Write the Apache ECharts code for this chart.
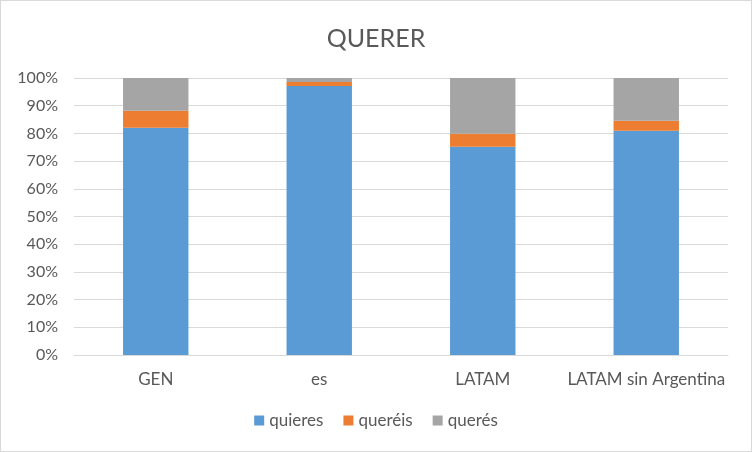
<!DOCTYPE html>
<html>
<head>
<meta charset="utf-8">
<script src="https://cdn.jsdelivr.net/npm/echarts@6/dist/echarts.min.js"></script>
<style>
html,body{margin:0;padding:0;background:#fff;}
#c{width:750px;height:450px;border:1px solid #d9d9d9;}
</style>
</head>
<body>
<div id="c"></div>
<script>
const categories = ['GEN', 'es', 'LATAM', 'LATAM sin Argentina'];
const quieres = [82.0, 97.1, 75.2, 81.0];
const quereis = [6.2, 1.5, 4.7, 3.6];
const queres = [11.8, 1.4, 20.1, 15.4];
const yTicks = [0, 10, 20, 30, 40, 50, 60, 70, 80, 90, 100];

const chart = echarts.init(document.getElementById('c'));
const font = 'Lato, "Open Sans", sans-serif';
const mk = (name, data, color) => ({
  name, type: 'bar', stack: 's', data, barWidth: '40%',
  itemStyle: { color }
});
chart.setOption({
  animation: false,
  textStyle: { fontFamily: font },
  title: {
    text: 'QUERER', left: 'center', top: 20,
    textStyle: { fontSize: 25, fontWeight: 'normal', color: '#595959', fontFamily: font }
  },
  legend: {
    bottom: 17, left: 'center', itemWidth: 10, itemHeight: 10, itemGap: 20,
    icon: 'rect',
    textStyle: { fontSize: 17, color: '#595959', fontFamily: font },
    data: ['quieres', 'queréis', 'querés']
  },
  grid: { left: 73, right: 23, top: 77, bottom: 96 },
  xAxis: {
    type: 'category', data: categories,
    axisLine: { lineStyle: { color: '#d9d9d9' } },
    axisTick: { show: false },
    axisLabel: { color: '#595959', fontSize: 17, margin: 16, interval: 0, hideOverlap: false, fontFamily: font }
  },
  yAxis: {
    type: 'value', min: yTicks[0], max: yTicks[yTicks.length - 1], interval: 10,
    axisLine: { show: false }, axisTick: { show: false },
    splitLine: { lineStyle: { color: '#d9d9d9' } },
    axisLabel: { color: '#595959', fontSize: 16, margin: 16, formatter: v => v + '%', fontFamily: font }
  },
  series: [
    mk('quieres', quieres, '#5b9bd5'),
    mk('queréis', quereis, '#ed7d31'),
    mk('querés', queres, '#a5a5a5')
  ]
});
</script>
</body>
</html>
